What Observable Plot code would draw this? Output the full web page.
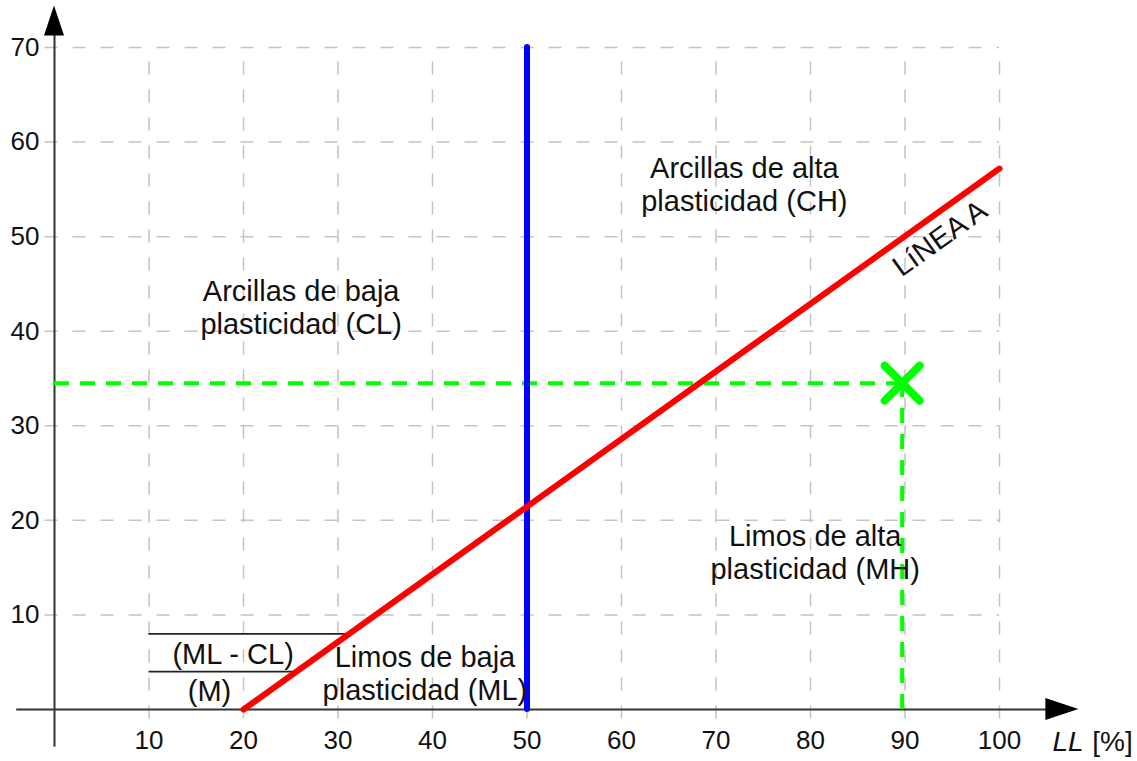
<!DOCTYPE html>
<html>
<head>
<meta charset="utf-8">
<script src="https://cdn.jsdelivr.net/npm/d3@7"></script>
<script src="https://cdn.jsdelivr.net/npm/@observablehq/plot@0.6"></script>
<style>
  html, body { margin: 0; padding: 0; background: #fff; }
  #chart svg { display: block; }
</style>
</head>
<body>
<div id="chart"></div>
<script>
// ---- data ----
const xTicks = [10, 20, 30, 40, 50, 60, 70, 80, 90, 100];
const yTicks = [10, 20, 30, 40, 50, 60, 70];
const gridXExtent = [-1, 100];
const gridYExtent = [-1, 70];
const axisXExtent = [-4, 108.4];
const axisYExtent = [-4, 74.4];

// Línea A
const lineA_LL = [20, 100];
const lineA_IP = [0, 57.2];
// LL = 50 boundary
const boundaryLL = 50;
const boundaryIP = [0, 70];
// sample point
const sampleLL = 89.7;
const sampleIP = 34.5;
// ML-CL band limits
const bandIP = [4, 8];
const bandLLStart = [10, 10];
const bandLLEnd = [25.7, 31.3];

const zoneLabels = [
  {x: 26.1, y: 42.6, text: "Arcillas de baja\nplasticidad (CL)"},
  {x: 73.0, y: 55.6, text: "Arcillas de alta\nplasticidad (CH)"},
  {x: 80.5, y: 16.65, text: "Limos de alta\nplasticidad (MH)"},
  {x: 39.2, y: 3.9, text: "Limos de baja\nplasticidad (ML)"},
  {x: 18.9, y: 5.97, text: "(ML - CL)"},
  {x: 16.4, y: 2.0, text: "(M)"}
];
const lineALabel = [{x: 93.7, y: 49.8, text: "LíNEA A"}];

const lineA = lineA_LL.map((x, i) => ({x, y: lineA_IP[i]}));
const bands = bandIP.map((y, i) => ({y, x1: bandLLStart[i], x2: bandLLEnd[i]}));

const font = "'Liberation Sans', Arial, sans-serif";

const plot = Plot.plot({
  width: 1137,
  height: 761,
  marginLeft: 54,
  marginRight: 138,
  marginTop: 47,
  marginBottom: 52,
  x: {domain: [0, 100], axis: null},
  y: {domain: [0, 70], axis: null},
  style: {fontFamily: font, background: "#fff"},
  marks: [
    // grid
    Plot.ruleX(xTicks, {x: d => d, y1: gridYExtent[0], y2: gridYExtent[1], stroke: "#c4c4c4", strokeWidth: 1.5, strokeDasharray: "13,15"}),
    Plot.ruleY(yTicks, {y: d => d, x1: gridXExtent[0], x2: gridXExtent[1], stroke: "#c4c4c4", strokeWidth: 1.5, strokeDasharray: "13,15"}),
    // axes
    Plot.ruleY([0], {x1: axisXExtent[0], x2: axisXExtent[1] - 2, stroke: "#333", strokeWidth: 2}),
    Plot.ruleX([0], {y1: axisYExtent[0], y2: axisYExtent[1] - 2, stroke: "#333", strokeWidth: 2}),
    // band lines
    Plot.ruleY(bands, {y: "y", x1: "x1", x2: "x2", stroke: "#222", strokeWidth: 1.6}),
    // green dashed guides
    Plot.ruleY([sampleIP], {x1: 0, x2: sampleLL, stroke: "#00ff00", strokeWidth: 4, strokeDasharray: "15,11"}),
    Plot.ruleX([sampleLL], {y1: 0, y2: sampleIP, stroke: "#00ff00", strokeWidth: 4, strokeDasharray: "15,11"}),
    // LL = 50
    Plot.ruleX([boundaryLL], {y1: boundaryIP[0], y2: boundaryIP[1], stroke: "#0000ff", strokeWidth: 6, strokeLinecap: "round"}),
    // Línea A
    Plot.line(lineA, {x: "x", y: "y", stroke: "#ff0000", strokeWidth: 6, strokeLinecap: "round"}),
    // sample marker
    Plot.dot([{x: sampleLL, y: sampleIP}], {x: "x", y: "y", symbol: "times", r: 16, stroke: "#00ff00", strokeWidth: 8, strokeLinecap: "round"}),
    // tick labels
    Plot.text(xTicks, {x: d => d, y: 0, dy: 31, text: d => String(d), fontSize: 26, fill: "#111"}),
    Plot.text(yTicks, {x: 0, y: d => d, dx: -15, textAnchor: "end", text: d => String(d), fontSize: 26, fill: "#111"}),
    // zone labels
    Plot.text(zoneLabels, {x: "x", y: "y", text: "text", fontSize: 29, lineHeight: 1.14, fill: "#111"}),
    Plot.text(lineALabel, {x: "x", y: "y", text: "text", fontSize: 29, rotate: -35.6, fill: "#111"}),
    // axis title
    Plot.text(["LL"], {x: 105.6, y: -3.4, text: d => d, textAnchor: "start", fontSize: 28, fontStyle: "italic", fill: "#111"}),
    Plot.text(["[%]"], {x: 114.1, y: -3.4, text: d => d, textAnchor: "end", fontSize: 28, fill: "#111"})
  ]
});

// arrowheads at axis ends, positioned through the plot's scales
const sx = plot.scale("x"), sy = plot.scale("y");
const svg = d3.select(plot);
const ox = sx.apply(0), oy = sy.apply(0);
const yTip = sy.apply(axisYExtent[1]);
svg.append("path")
  .attr("d", `M${ox},${yTip} L${ox - 10},${yTip + 30} L${ox + 10},${yTip + 30} Z`)
  .attr("fill", "#000");
const xTip = sx.apply(axisXExtent[1]);
svg.append("path")
  .attr("d", `M${xTip},${oy} L${xTip - 33},${oy - 11} L${xTip - 33},${oy + 11} Z`)
  .attr("fill", "#000");

document.getElementById("chart").appendChild(plot);
</script>
</body>
</html>
